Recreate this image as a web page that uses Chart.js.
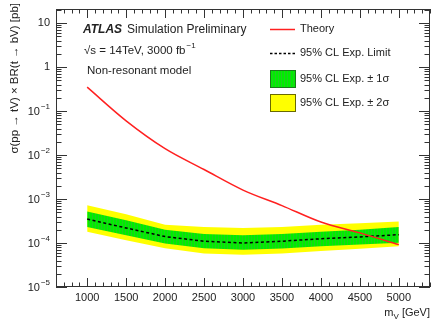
<!DOCTYPE html>
<html>
<head>
<meta charset="utf-8">
<script src="https://cdn.jsdelivr.net/npm/chart.js@4"></script>
<style>
  body { margin: 0; background: #fff; }
  #c { display: block; }
</style>
</head>
<body>
<canvas id="c" width="434" height="326"></canvas>
<script>
// masses in GeV
var masses = [1000, 1500, 2000, 2500, 3000, 3500, 4000, 4500, 5000];
var theory = [0.35, 0.06, 0.014, 0.0047, 0.0016, 0.00071, 0.0003, 0.00017, 0.000092];
var expLimit = [3.5e-4, 2.2e-4, 1.4e-4, 1.1e-4, 1.0e-4, 1.1e-4, 1.25e-4, 1.38e-4, 1.55e-4];
var oneSigUp = [5.2e-4, 3.3e-4, 2.0e-4, 1.6e-4, 1.5e-4, 1.6e-4, 1.8e-4, 2.0e-4, 2.3e-4];
var oneSigDn = [2.3e-4, 1.5e-4, 9.8e-5, 7.6e-5, 7.0e-5, 7.5e-5, 8.5e-5, 9.3e-5, 1.02e-4];
var twoSigUp = [7.2e-4, 4.5e-4, 2.6e-4, 2.3e-4, 2.2e-4, 2.3e-4, 2.6e-4, 2.8e-4, 3.1e-4];
var twoSigDn = [1.8e-4, 1.15e-4, 7.6e-5, 5.8e-5, 5.4e-5, 5.8e-5, 6.6e-5, 7.4e-5, 8.4e-5];

var xTickLabels = [1000, 1500, 2000, 2500, 3000, 3500, 4000, 4500, 5000];
var yDecades = [1, 0, -1, -2, -3, -4, -5];

function pts(arr) {
    return arr.map(function (v, i) { return { x: masses[i], y: v }; });
}

var ctx = document.getElementById("c").getContext("2d");

// green band with faint vertical stripes
var pc = document.createElement("canvas");
pc.width = 3; pc.height = 4;
var pctx = pc.getContext("2d");
pctx.fillStyle = "#00ee00";
pctx.fillRect(0, 0, 3, 4);
pctx.fillStyle = "#22cc22";
pctx.fillRect(2, 0, 1, 4);
var greenFill = ctx.createPattern(pc, "repeat");

var FONT = "Liberation Sans, Arial, sans-serif";
var TXT = "#222";

function supText(c, base, sup, x, y, size, align) {
    c.font = size + "px " + FONT;
    var w1 = c.measureText(base).width;
    c.font = Math.round(size * 0.72) + "px " + FONT;
    var w2 = c.measureText(sup).width;
    var x0 = align === "right" ? x - w1 - w2 - 1 : x;
    c.textAlign = "left";
    c.font = size + "px " + FONT;
    c.fillText(base, x0, y);
    c.font = Math.round(size * 0.72) + "px " + FONT;
    c.fillText(sup, x0 + w1 + 1, y - size * 0.45);
}

var decorations = {
    id: "decorations",
    afterDraw: function (chart) {
        var c = chart.ctx;
        var a = chart.chartArea;
        var xs = chart.scales.x, ys = chart.scales.y;
        c.save();
        c.strokeStyle = "#333";
        c.lineWidth = 1;
        c.strokeRect(a.left + 0.5, a.top + 0.5, a.right - a.left - 1, a.bottom - a.top - 1);

        c.beginPath();
        for (var v = 600; v <= 5400; v += 100) {
            var px = Math.round(xs.getPixelForValue(v)) + 0.5;
            var len = v % 500 === 0 ? 9 : 4.5;
            c.moveTo(px, a.bottom); c.lineTo(px, a.bottom - len);
            c.moveTo(px, a.top); c.lineTo(px, a.top + len);
        }
        for (var d = -5; d <= 1; d++) {
            for (var m = 1; m <= 9; m++) {
                var val = m * Math.pow(10, d);
                if (val > ys.max || val < ys.min) continue;
                var py = Math.round(ys.getPixelForValue(val)) + 0.5;
                var l = m === 1 ? 11 : 5.5;
                c.moveTo(a.left, py); c.lineTo(a.left + l, py);
                c.moveTo(a.right, py); c.lineTo(a.right - l, py);
            }
        }
        c.stroke();

        c.fillStyle = TXT;
        c.textBaseline = "middle";
        c.font = "11px " + FONT;
        c.textAlign = "center";
        xTickLabels.forEach(function (t) {
            c.fillText(String(t), xs.getPixelForValue(t), 298);
        });
        yDecades.forEach(function (d) {
            var py = ys.getPixelForValue(Math.pow(10, d));
            if (d === 1) { c.textAlign = "right"; c.font = "11px " + FONT; c.fillText("10", 50, py); }
            else if (d === 0) { c.textAlign = "right"; c.font = "11px " + FONT; c.fillText("1", 50, py); }
            else supText(c, "10", "\u2212" + (-d), 50, py + 1, 11, "right");
        });

        // axis titles
        c.save();
        c.translate(15, 3);
        c.rotate(-Math.PI / 2);
        c.textAlign = "right";
        c.font = "11.5px " + FONT;
        c.fillText("\u03c3(pp \u2192 tV) \u00d7 BR(t \u2192 bV) [pb]", 0, 0);
        c.restore();

        c.textAlign = "left";
        c.font = "11px " + FONT;
        var t2 = " [GeV]";
        var w2 = c.measureText(t2).width;
        var wm = c.measureText("m").width;
        c.font = "8px " + FONT;
        var wv = c.measureText("V").width;
        var x0 = 430 - w2 - wv - wm;
        c.font = "11px " + FONT;
        c.fillText("m", x0, 313);
        c.fillText(t2, x0 + wm + wv, 313);
        c.font = "8px " + FONT;
        c.fillText("V", x0 + wm, 317);

        // labels
        c.font = "bold italic 12px " + FONT;
        c.fillText("ATLAS", 83, 30);
        var wa = c.measureText("ATLAS").width;
        c.font = "12px " + FONT;
        c.fillText("Simulation Preliminary", 83 + wa + 5, 30);
        c.font = "11.5px " + FONT;
        c.fillText("\u221as = 14TeV, 3000 fb", 84, 51);
        var ws = c.measureText("\u221as = 14TeV, 3000 fb").width;
        c.font = "8px " + FONT;
        c.fillText("\u22121", 84 + ws + 1, 46);
        c.font = "11.5px " + FONT;
        c.fillText("Non-resonant model", 87, 71);

        // legend
        c.font = "11px " + FONT;
        c.strokeStyle = "#ff2020";
        c.lineWidth = 1.5;
        c.beginPath(); c.moveTo(270, 29.5); c.lineTo(295, 29.5); c.stroke();
        c.fillText("Theory", 300, 29);
        c.strokeStyle = "#000";
        c.setLineDash([2.5, 2]);
        c.beginPath(); c.moveTo(270, 53.5); c.lineTo(295, 53.5); c.stroke();
        c.setLineDash([]);
        c.fillText("95% CL Exp. Limit", 300, 53);
        c.fillStyle = greenFill;
        c.fillRect(270, 70, 25, 17);
        c.strokeStyle = "#1a7a1a";
        c.lineWidth = 1;
        c.strokeRect(270.5, 70.5, 25, 17);
        c.fillStyle = TXT;
        c.fillText("95% CL Exp. \u00b1 1\u03c3", 300, 79);
        c.fillStyle = "#ffff00";
        c.fillRect(270, 94, 25, 17);
        c.strokeStyle = "#6a6a00";
        c.strokeRect(270.5, 94.5, 25, 17);
        c.fillStyle = TXT;
        c.fillText("95% CL Exp. \u00b1 2\u03c3", 300, 103);
        c.restore();
    }
};

var line = { pointRadius: 0, pointHoverRadius: 0, tension: 0 };

new Chart(ctx, {
    type: "line",
    data: {
        datasets: [
            Object.assign({ data: pts(twoSigUp), fill: "+1", backgroundColor: "#ffff00", borderWidth: 0, order: 5 }, line),
            Object.assign({ data: pts(twoSigDn), fill: false, borderWidth: 0, order: 5 }, line),
            Object.assign({ data: pts(oneSigUp), fill: "+1", backgroundColor: greenFill, borderWidth: 0, order: 3 }, line),
            Object.assign({ data: pts(oneSigDn), fill: false, borderWidth: 0, order: 3 }, line),
            Object.assign({ data: pts(expLimit), fill: false, borderColor: "#000", borderWidth: 1.5, borderDash: [3, 2.5], order: 1 }, line),
            Object.assign({}, line, { data: pts(theory), fill: false, borderColor: "#ff2020", borderWidth: 1.5, order: 0, cubicInterpolationMode: "monotone" })
        ]
    },
    options: {
        responsive: false,
        animation: false,
        events: [],
        layout: { padding: { left: 56, right: 4, top: 9, bottom: 39 } },
        plugins: { legend: { display: false }, tooltip: { enabled: false } },
        scales: {
            x: { type: "linear", min: 600, max: 5400, display: false },
            y: { type: "logarithmic", min: 1e-5, max: 21, display: false }
        }
    },
    plugins: [decorations]
});
</script>
</body>
</html>
